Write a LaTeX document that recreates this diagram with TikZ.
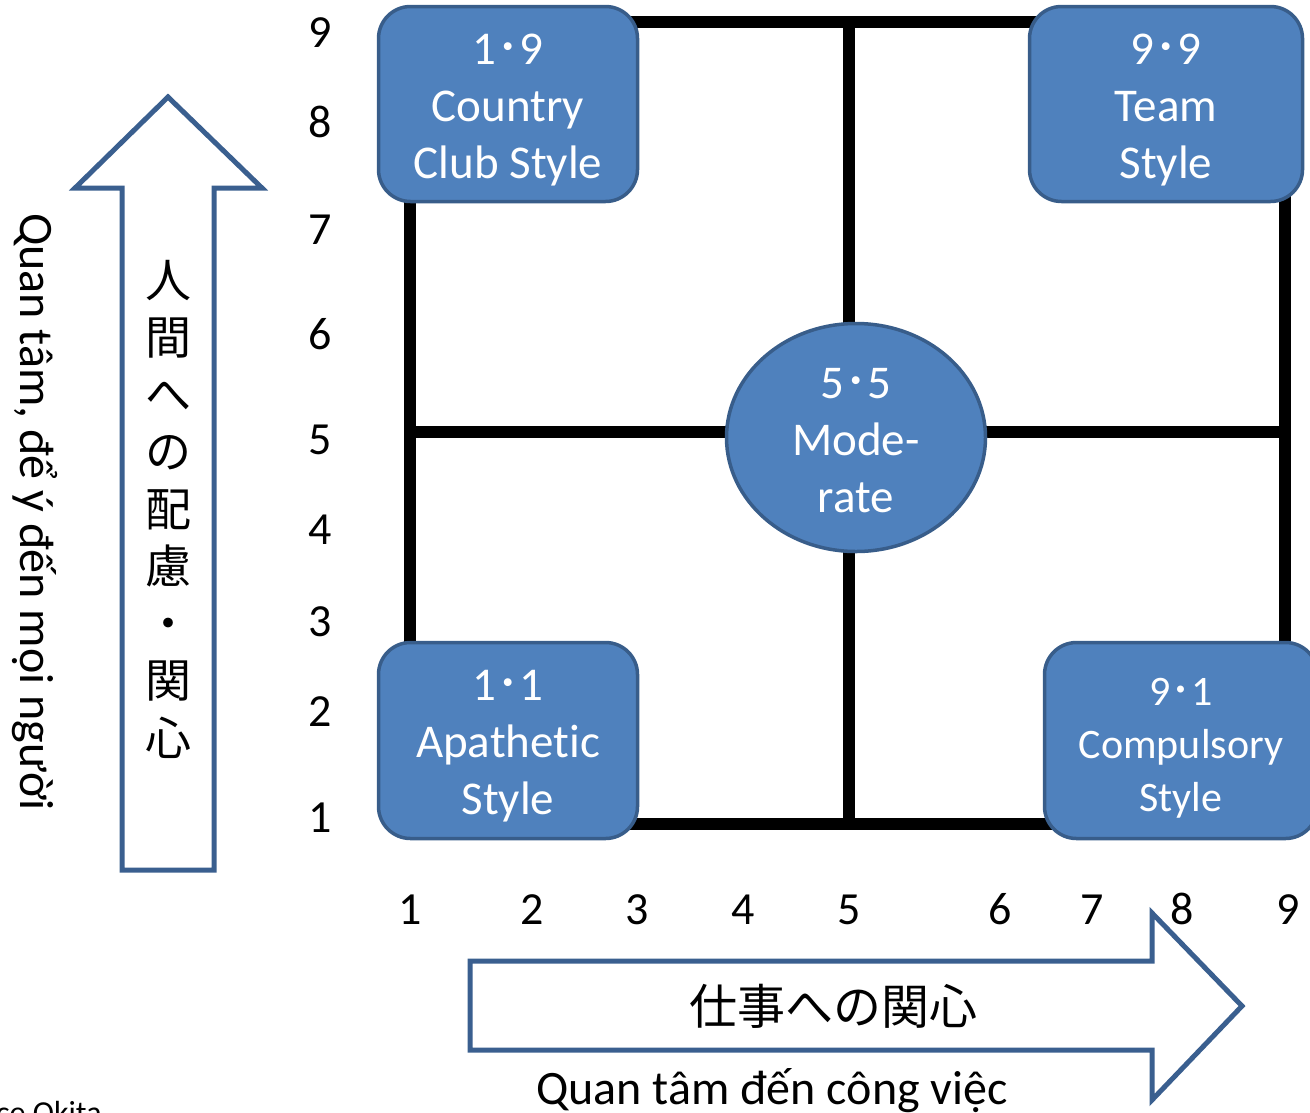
\documentclass[tikz,border=0pt]{standalone}
\usepackage{fontspec}
\setmainfont[Ligatures=NoCommon]{Carlito}
\newfontfamily\jp{Noto Sans CJK JP}
\usetikzlibrary{shapes.geometric}
\definecolor{boxfill}{HTML}{4F81BD}
\definecolor{boxline}{HTML}{385D8A}
\definecolor{arrline}{HTML}{3A5F8F}
\newcommand{\md}{{\jp ･}}
\tikzset{
  stylebox/.style={draw=boxline, line width=3.5bp, fill=boxfill, rounded corners=32bp, inner sep=0pt},
  boxtext/.style={text=white, align=center, font=\fontsize{47bp}{57bp}\selectfont, inner sep=0pt},
  numlabel/.style={anchor=base, font=\fontsize{46bp}{50bp}\selectfont, inner sep=0pt},
  gridline/.style={line width=12bp, line cap=rect},
  bigarrow/.style={draw=arrline, line width=5bp, fill=white, line join=miter},
}
\begin{document}
\begin{tikzpicture}[x=1bp, y=-1bp]
\useasboundingbox (0,0) rectangle (1310,1112);
\clip (0,0) rectangle (1310,1112);

% grid
\coordinate (tl) at (410,22);
\coordinate (br) at (1285,824);
\coordinate (mt) at (848.5,22);
\coordinate (mb) at (848.5,824);
\coordinate (ml) at (410,432);
\coordinate (mr) at (1285,432);
\draw[gridline] (tl) rectangle (br);
\draw[gridline] (mt) -- (mb);
\draw[gridline] (ml) -- (mr);

% style boxes
\node[stylebox, minimum width=259bp, minimum height=195bp] (b19) at (508,104) {};
\node[boxtext] (t19) at (508,110.5) {1\md9\\Country\\Club Style};
\node[stylebox, minimum width=273bp, minimum height=195bp] (b99) at (1166,104) {};
\node[boxtext] (t99) at (1166,110.5) {9\md9\\Team\\Style};
\node[stylebox, minimum width=259bp, minimum height=196bp] (b11) at (508,740.5) {};
\node[boxtext] (t11) at (508,746.5) {1\md1\\Apathetic\\Style};
\node[stylebox, minimum width=273bp, minimum height=196bp] (b91) at (1181,740.5) {};
\node[boxtext, font=\fontsize{42bp}{53bp}\selectfont] (t91) at (1181,748.5) {9\md1\\Compulsory\\Style};
\node[ellipse, draw=boxline, line width=3.5bp, fill=boxfill, inner sep=0pt,
  minimum width=259bp, minimum height=228bp] (b55) at (856,437.5) {};
\node[boxtext] (t55) at (856,440.5) {5\md5\\Mode-\\rate};

% y axis numbers
\node[numlabel] (y9) at (320,47) {9};
\node[numlabel] (y8) at (320,137) {8};
\node[numlabel] (y7) at (320,244) {7};
\node[numlabel] (y6) at (320,349) {6};
\node[numlabel] (y5) at (320,454) {5};
\node[numlabel] (y4) at (320,544) {4};
\node[numlabel] (y3) at (320,636) {3};
\node[numlabel] (y2) at (320,726) {2};
\node[numlabel] (y1) at (320,832) {1};

% x axis numbers
\node[numlabel] (x1) at (410,924) {1};
\node[numlabel] (x2) at (532,924) {2};
\node[numlabel] (x3) at (637,924) {3};
\node[numlabel] (x4) at (743,924) {4};
\node[numlabel] (x5) at (849,924) {5};
\node[numlabel] (x6) at (1000,924) {6};
\node[numlabel] (x7) at (1092,924) {7};
\node[numlabel] (x8) at (1182,924) {8};
\node[numlabel] (x9) at (1288,924) {9};

% up arrow
\draw[bigarrow] (122,870) -- (122,188) -- (75,188) -- (168,97) -- (262,188)
  -- (214,188) -- (214,870) -- cycle;
\node[align=center, font=\jp\fontsize{46bp}{57.25bp}\selectfont, inner sep=0pt] (upt) at (168,509)
  {人\\間\\へ\\の\\配\\慮\\・\\関\\心};

% right arrow
\draw[bigarrow] (470,961) -- (1152,961) -- (1152,913) -- (1242,1006) -- (1152,1100)
  -- (1152,1050) -- (470,1050) -- cycle;
\node[font=\jp\fontsize{48bp}{50bp}\selectfont, inner sep=0pt] (rt) at (833,1006) {仕事への関心};

% Vietnamese captions
\node[anchor=base, font=\fontsize{48bp}{50bp}\selectfont, inner sep=0pt] (xcap) at (772,1104)
  {Quan tâm đến công việc};
\node[rotate=-90, font=\fontsize{48bp}{50bp}\selectfont, inner sep=0pt] (ycap) at (35,512)
  {Quan tâm, để ý đến mọi người};

% source (cut off)
\node[anchor=base west, font=\fontsize{32bp}{34bp}\selectfont, inner sep=0pt] (src) at (-4,1123) {ce Okita};
\end{tikzpicture}
\end{document}
